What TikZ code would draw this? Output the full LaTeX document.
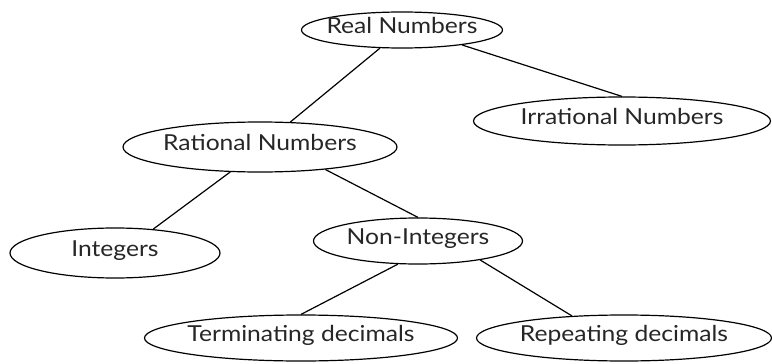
\documentclass[tikz,border=0pt]{standalone}
\usepackage{fontspec}
\setmainfont[FakeStretch=1.12]{Lato}
\usetikzlibrary{shapes.geometric}
\tikzset{
	num/.style={ellipse, draw=black, line width=1.2pt, inner xsep=-60pt, inner ysep=0pt,
		text=black!85, font=\fontsize{22}{26}\selectfont, text height=0.78em, text depth=0.06em},
	branch/.style={line width=1.2pt, draw=black}
}

\begin{document}
\begin{tikzpicture}[x=1pt, y=-1pt]
		%%%%% START %%%%%
		
		\useasboundingbox (0, 0) rectangle (772, 364);
		
		\node[num, minimum width=201pt, minimum height=36pt] (real) at (402, 30) {Real Numbers};
		\node[num, minimum width=297pt, minimum height=48pt] (irr) at (622, 121) {Irrational Numbers};
		\node[num, minimum width=274pt, minimum height=50pt] (rat) at (260, 147) {Rational Numbers};
		
		\node[num, minimum width=210pt, minimum height=50pt] (int) at (115, 253) {Integers};
		\node[num, minimum width=209pt, minimum height=46pt] (non) at (418, 241) {Non-Integers};
		
		\node[num, minimum width=313pt, minimum height=46pt] (term) at (301, 338) {Terminating decimals};
		\node[num, minimum width=295pt, minimum height=46pt] (rep) at (624, 338) {Repeating decimals};
		
		\draw[branch] (real) -- (rat);
		\draw[branch] (real.-14) -- (irr.north);
		\draw[branch] (rat.-140) -- (int.32);
		\draw[branch] (rat.-19) -- (non.north);
		\draw[branch] (non.-131) -- (term.north);
		\draw[branch] (non.-17) -- (rep.157);
		
		%%%%% END %%%%%
	\end{tikzpicture}
\end{document}
